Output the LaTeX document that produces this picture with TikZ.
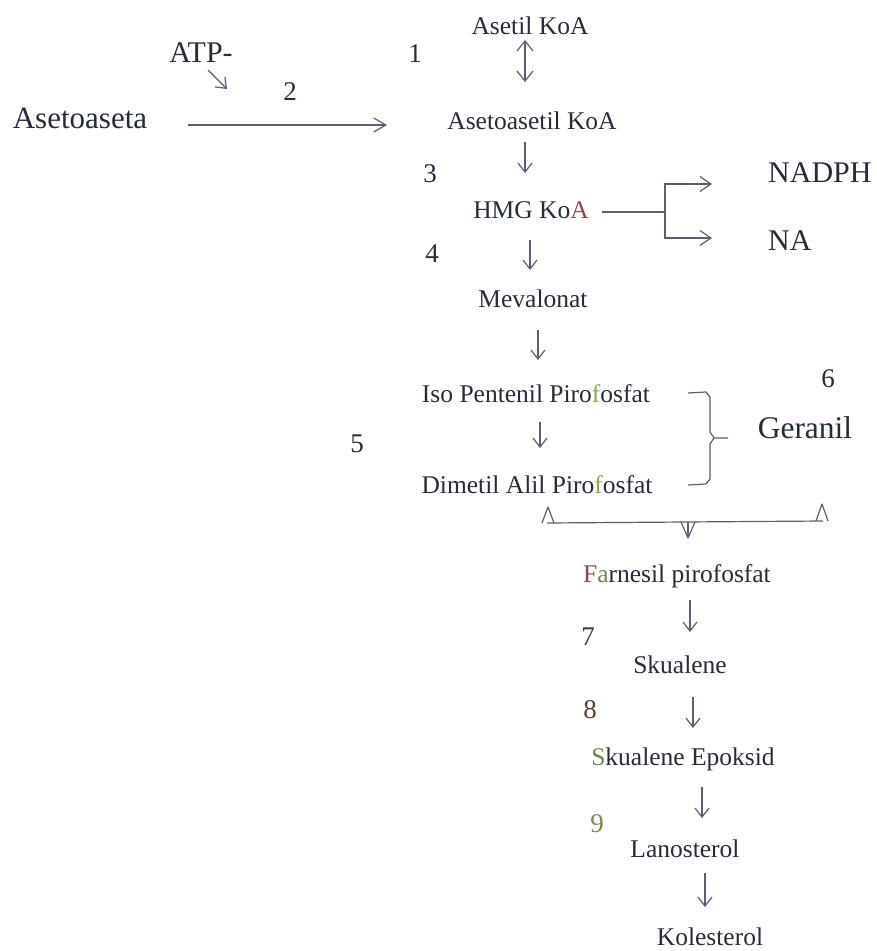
\documentclass[tikz,border=0pt]{standalone}
\usepackage{fontspec}
\setmainfont{Liberation Serif}
\usetikzlibrary{arrows.meta}
\definecolor{txt}{HTML}{262C3C}
\definecolor{ln}{HTML}{586074}
\definecolor{grn}{HTML}{8AA84A}
\definecolor{rdb}{HTML}{8A4A4A}
\definecolor{brn}{HTML}{4A3A30}
\definecolor{brn2}{HTML}{5A4030}
\definecolor{olv}{HTML}{7A8A50}
\definecolor{sgr}{HTML}{6A8A50}
\begin{document}
\begin{tikzpicture}[x=1pt,y=-1pt,
  lbl/.style={anchor=base, inner sep=0pt, text=txt, font=\fontsize{25.5}{30}\selectfont},
  big/.style={anchor=base, inner sep=0pt, text=txt, font=\fontsize{30}{36}\selectfont},
  num/.style={anchor=base, inner sep=0pt, text=txt, font=\fontsize{27}{32}\selectfont},
  plain/.style={draw=ln, line width=1.2pt},
  arr/.style={plain, -{Straight Barb[length=9pt,width=14pt]}},
  darr/.style={plain, {Straight Barb[length=10pt,width=16pt]}-{Straight Barb[length=10pt,width=16pt]}}]
\useasboundingbox[fill=white] (0,0) rectangle (877,951);

% nodes
\node[lbl] (asetil) at (530,34) {Asetil KoA};
\node[lbl] (asetoasetil) at (532,129) {Asetoasetil KoA};
\node[big, font=\fontsize{31}{36}\selectfont] (asetoaseta) at (80,128) {Asetoaseta};
\node[big] (atp) at (201,62) {ATP-};
\node[num] (n1) at (415,62) {1};
\node[num] (n2) at (290,100) {2};
\node[lbl] (hmg) at (531,218) {HMG Ko\textcolor{rdb}{A}};
\node[num] (n3) at (430,182) {3};
\node[num] (n4) at (432,262) {4};
\node[big, anchor=base west] (nadph) at (768,182) {NADPH};
\node[big, anchor=base west] (na) at (768,250) {NA};
\node[lbl] (meva) at (533,307) {Mevalonat};
\node[lbl] (iso) at (536,402) {Iso Pentenil Piro\textcolor{grn}{f}osfat};
\node[num] (n5) at (357,452) {5};
\node[lbl] (dimetil) at (537,493) {Dimetil Alil Piro\textcolor{grn}{f}osfat};
\node[num] (n6) at (828,387) {6};
\node[big, font=\fontsize{31.5}{36}\selectfont] (geranil) at (805,438) {Geranil};
\node[lbl] (farnesil) at (677,582) {\textcolor{rdb}{F}\textcolor{sgr}{a}rnesil pirofosfat};
\node[num, text=brn] (n7) at (588,645) {7};
\node[lbl] (skualene) at (680,673) {Skualene};
\node[num, text=brn2] (n8) at (590,718) {8};
\node[lbl] (epoksid) at (683,765) {\textcolor{sgr}{S}kualene Epoksid};
\node[num, text=olv] (n9) at (597,832) {9};
\node[lbl] (lano) at (685,857) {Lanosterol};
\node[lbl] (kolest) at (710,945) {Kolesterol};

% connectors
\draw[darr] ([shift={(-5,6)}]asetil.base) -- ([shift={(-7,-47)}]asetoasetil.base);
\draw[plain, -{Straight Barb[length=12pt,width=14pt]}] ([shift={(108,-3)}]asetoaseta.base) -- ([shift={(-145,-4)}]asetoasetil.base);
\coordinate (atpend) at (227,89);
\draw[arr] ([shift={(7,8)}]atp.base) -- (atpend);
\draw[arr] ([shift={(-7,13)}]asetoasetil.base) -- ([shift={(-6,-45)}]hmg.base);
\coordinate (br) at ([shift={(134,-6)}]hmg.base);
\draw[plain] ([shift={(71,-6)}]hmg.base) -- (br);
\draw[plain, -{Straight Barb[length=11pt,width=15pt]}] (br) |- ([shift={(-56,2)}]nadph.base west);
\draw[plain, -{Straight Barb[length=11pt,width=15pt]}] (br) |- ([shift={(-56,-12)}]na.base west);
\draw[arr] ([shift={(-1,22)}]hmg.base) -- ([shift={(-3,-37)}]meva.base);
\draw[arr] ([shift={(5,23)}]meva.base) -- ([shift={(2,-42)}]iso.base);
\draw[arr] ([shift={(4,20)}]iso.base) -- ([shift={(3,-45)}]dimetil.base);
\draw[arr] ([shift={(13,18)}]farnesil.base) -- ([shift={(10,-41)}]skualene.base);
\draw[arr] ([shift={(13,24)}]skualene.base) -- ([shift={(10,-37)}]epoksid.base);
\draw[arr] ([shift={(19,22)}]epoksid.base) -- ([shift={(17,-39)}]lano.base);
\draw[arr] ([shift={(20,16)}]lano.base) -- ([shift={(-5,-38)}]kolest.base);

% brace to Geranil
\draw[plain, line join=round] (688,393) -- (706,392) -- (710,397) -- (710,432) -- (714,438) -- (728,438);
\draw[plain, line join=round] (714,438) -- (710,444) -- (710,479) -- (706,484) -- (688,485);

% line with arrowheads below
\draw[plain] (547,523) -- (823,521);
\draw[plain, line join=round] (542,523) -- (548,507) -- (554,523);
\draw[plain, line join=round] (816,521) -- (822,504) -- (828,521);
\draw[plain, line join=round] (681,522) -- (688,538) -- (695,522);
\draw[plain] (688,522) -- (688,536);
\end{tikzpicture}
\end{document}
